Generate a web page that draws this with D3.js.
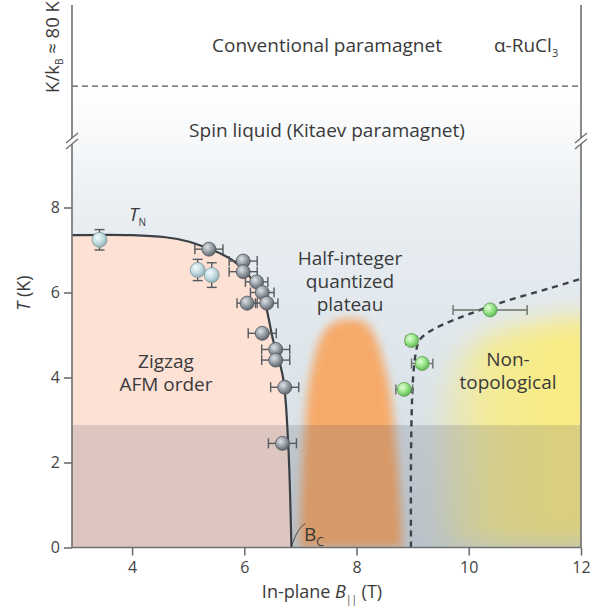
<!DOCTYPE html>
<html><head><meta charset="utf-8">
<script src="https://cdn.jsdelivr.net/npm/d3@7"></script>
<style>
html,body{margin:0;padding:0;background:#fff;}
svg{display:block;font-family:"Open Sans",sans-serif;}
</style></head>
<body>
<svg id="chart" width="597" height="610"></svg>
<script>
// ---------- DATA ----------
const xTicks = [4, 6, 8, 10, 12];
const yTicks = [0, 2, 4, 6, 8];
const xDomain = [2.93, 12];
const yDomain = [0, 8];
const kitaevK = 80;            // dashed line K/kB ≈ 80 K
const lowBandT = 2.88;         // darker low-temperature band

// T_N phase boundary (zigzag AFM)
const tnB = [2.93, 4.0, 4.6, 5.0, 5.35, 5.6, 5.8, 6.05, 6.33, 6.51, 6.69, 6.78, 6.84];
const tnT = [7.35, 7.35, 7.3, 7.2, 7.04, 6.9, 6.75, 6.45, 5.9, 4.9, 4.0, 2.5, 0];

// dashed boundary (non-topological)
const dashB = [8.97, 8.97, 8.99, 9.02, 9.06, 9.12, 9.3, 9.53, 9.96, 10.55, 11.44, 12.0];
const dashT = [0, 2.0, 3.5, 4.2, 4.6, 4.88, 5.08, 5.24, 5.47, 5.75, 6.1, 6.32];

// half-integer plateau region outline
const plateauB = [6.98, 7.04, 7.12, 7.2, 7.38, 7.6, 7.88, 8.15, 8.32, 8.55, 8.66, 8.76, 8.82];
const plateauT = [0, 2.0, 3.5, 4.2, 5.0, 5.3, 5.38, 5.3, 5.0, 4.0, 3.0, 1.5, 0];

// non-topological region outline
const nonTopB = [9.4, 9.45, 9.8, 10.3, 11.0, 12.3, 12.3];
const nonTopT = [0, 3.4, 4.5, 5.0, 5.25, 5.5, 0];

// grey points (horizontal error bars)
const greyB = [5.37, 5.98, 5.98, 6.22, 6.32, 6.05, 6.40, 6.32, 6.56, 6.56, 6.72, 6.68];
const greyT = [7.02, 6.74, 6.49, 6.25, 6.0, 5.75, 5.75, 5.04, 4.66, 4.41, 3.77, 2.45];
const greyErr = [0.25, 0.25, 0.25, 0.2, 0.21, 0.18, 0.2, 0.25, 0.25, 0.25, 0.25, 0.25];

// light points (vertical error bars)
const lightB = [3.42, 5.17, 5.42];
const lightT = [7.24, 6.53, 6.41];
const lightErr = [0.24, 0.25, 0.29];

// green points (horizontal error bars)
const greenB = [10.38, 8.98, 9.17, 8.85];
const greenT = [5.59, 4.87, 4.33, 3.72];
const greenErr = [0.66, 0.1, 0.19, 0.15];

// ---------- CHART ----------
const svg = d3.select("#chart");
const L = 72, R = 581, TOP = 5;
const x = d3.scaleLinear().domain(xDomain).range([L, R]);
const y = d3.scaleLinear().domain(yDomain).range([547.5, 207.5]);
const breakT = 9.5;
const yHi = d3.scaleLinear().domain([breakT, 179]).range([y(breakT), TOP]);
const yBreak = 141;

const defs = svg.append("defs");
const bg = defs.append("linearGradient").attr("id","bg").attr("gradientUnits","userSpaceOnUse")
  .attr("x1",0).attr("x2",0).attr("y1",yHi(kitaevK)).attr("y2",y(0));
bg.append("stop").attr("offset",0).attr("stop-color","#ffffff");
bg.append("stop").attr("offset",0.3).attr("stop-color","#e8edf1");
bg.append("stop").attr("offset",1).attr("stop-color","#d0dce4");

const yg = defs.append("linearGradient").attr("id","yg").attr("gradientUnits","userSpaceOnUse")
  .attr("x1",x(9.4)).attr("x2",x(11.6)).attr("y1",0).attr("y2",0);
yg.append("stop").attr("offset",0).attr("stop-color","#f6ec8c").attr("stop-opacity",0.2);
yg.append("stop").attr("offset",0.45).attr("stop-color","#f7ec8a").attr("stop-opacity",0.88);
yg.append("stop").attr("offset",1).attr("stop-color","#f9ec84").attr("stop-opacity",1);

function blur(id, sd){
  const f = defs.append("filter").attr("id",id).attr("x","-50%").attr("y","-50%").attr("width","200%").attr("height","200%");
  f.append("feGaussianBlur").attr("stdDeviation",sd);
}
blur("b1",5); blur("b2",13);

defs.append("clipPath").attr("id","plotclip").append("rect")
  .attr("x",L).attr("y",TOP).attr("width",R-L).attr("height",y(0)-TOP);

function sphere(id, c0, c1, c2){
  const g = defs.append("radialGradient").attr("id",id).attr("cx","38%").attr("cy","35%").attr("r","65%");
  g.append("stop").attr("offset",0).attr("stop-color",c0);
  g.append("stop").attr("offset",0.55).attr("stop-color",c1);
  g.append("stop").attr("offset",1).attr("stop-color",c2);
}
sphere("sg","#dfe3e7","#989fa7","#5f666e");
sphere("sl","#f4fcfd","#c3dde1","#93b3b8");
sphere("sgr","#e4ffdb","#98e487","#62b857");

const plot = svg.append("g").attr("clip-path","url(#plotclip)");
// background
plot.append("rect").attr("x",L).attr("y",TOP).attr("width",R-L).attr("height",y(0)-TOP).attr("fill","url(#bg)");
plot.append("rect").attr("x",L).attr("y",TOP).attr("width",R-L).attr("height",yHi(kitaevK)-TOP).attr("fill","#fff");

const line = d3.line().x(d=>x(d[0])).y(d=>y(d[1]));
// non-topological (yellow)
plot.append("path").attr("d", line(d3.zip(nonTopB, nonTopT))+"Z")
  .attr("fill","url(#yg)").attr("filter","url(#b2)");
// plateau (orange)
plot.append("path").attr("d", d3.line().x(d=>x(d[0])).y(d=>y(d[1])).curve(d3.curveCatmullRom)(d3.zip(plateauB, plateauT)).concat("Z"))
  .attr("fill","#f6aa6a").attr("filter","url(#b1)");
// zigzag AFM (pink)
const tnPts = d3.zip(tnB, tnT);
const curved = d3.line().x(d=>x(d[0])).y(d=>y(d[1])).curve(d3.curveCatmullRom);
plot.append("path").attr("d", curved(tnPts) + `L${x(xDomain[0])},${y(0)}Z`).attr("fill","#fde1d5");
// low-T band
plot.append("rect").attr("x",L).attr("y",y(lowBandT)).attr("width",R-L).attr("height",y(0)-y(lowBandT))
  .attr("fill","rgb(80,80,95)").attr("fill-opacity",0.18);

// dashed K line
svg.append("line").attr("x1",L).attr("x2",R).attr("y1",yHi(kitaevK)).attr("y2",yHi(kitaevK))
  .attr("stroke","#555").attr("stroke-width",1.2).attr("stroke-dasharray","6,4");

// T_N line
plot.append("path").attr("d", curved(tnPts)).attr("fill","none").attr("stroke","#3a4046").attr("stroke-width",2.2);
// dashed boundary
plot.append("path").attr("d", curved(d3.zip(dashB,dashT))).attr("fill","none")
  .attr("stroke","#3c4248").attr("stroke-width",2.4).attr("stroke-dasharray","6,5");

// error bars + points
function hErr(g, b, t, e){
  const yy = y(t);
  g.append("line").attr("x1",x(b-e)).attr("x2",x(b+e)).attr("y1",yy).attr("y2",yy);
  g.append("line").attr("x1",x(b-e)).attr("x2",x(b-e)).attr("y1",yy-5).attr("y2",yy+5);
  g.append("line").attr("x1",x(b+e)).attr("x2",x(b+e)).attr("y1",yy-5).attr("y2",yy+5);
}
function vErr(g, b, t, e){
  const xx = x(b);
  g.append("line").attr("x1",xx).attr("x2",xx).attr("y1",y(t-e)).attr("y2",y(t+e));
  g.append("line").attr("x1",xx-5).attr("x2",xx+5).attr("y1",y(t-e)).attr("y2",y(t-e));
  g.append("line").attr("x1",xx-5).attr("x2",xx+5).attr("y1",y(t+e)).attr("y2",y(t+e));
}
const eg = svg.append("g").attr("stroke","#555b60").attr("stroke-width",1.4);
greyB.forEach((b,i)=>hErr(eg,b,greyT[i],greyErr[i]));
lightB.forEach((b,i)=>vErr(eg,b,lightT[i],lightErr[i]));
const eg2 = svg.append("g").attr("stroke","#6a7068").attr("stroke-width",1.4);
greenB.forEach((b,i)=>hErr(eg2,b,greenT[i],greenErr[i]));

svg.append("g").selectAll("circle").data(d3.zip(lightB,lightT)).join("circle")
  .attr("cx",d=>x(d[0])).attr("cy",d=>y(d[1])).attr("r",7.5)
  .attr("fill","url(#sl)").attr("stroke","#7f989c").attr("stroke-width",0.8);
svg.append("g").selectAll("circle").data(d3.zip(greyB,greyT)).join("circle")
  .attr("cx",d=>x(d[0])).attr("cy",d=>y(d[1])).attr("r",7)
  .attr("fill","url(#sg)").attr("stroke","#50565c").attr("stroke-width",0.8);
svg.append("g").selectAll("circle").data(d3.zip(greenB,greenT)).join("circle")
  .attr("cx",d=>x(d[0])).attr("cy",d=>y(d[1])).attr("r",7)
  .attr("fill","url(#sgr)").attr("stroke","#5c9a52").attr("stroke-width",0.8);

// ---------- AXES ----------
const axisColor = "#6f6f6f";
const ax = svg.append("g").attr("stroke",axisColor).attr("stroke-width",1.6).attr("fill","none");
// left/right axes with break
ax.append("line").attr("x1",L).attr("x2",L).attr("y1",TOP).attr("y2",yBreak-3);
ax.append("line").attr("x1",L).attr("x2",L).attr("y1",yBreak+3).attr("y2",y(0));
ax.append("line").attr("x1",R).attr("x2",R).attr("y1",TOP).attr("y2",yBreak-3);
ax.append("line").attr("x1",R).attr("x2",R).attr("y1",yBreak+3).attr("y2",y(0));
ax.append("line").attr("x1",L).attr("x2",R).attr("y1",y(0)).attr("y2",y(0));
[L,R].forEach(xx=>{
  [-3,3].forEach(o=>{
    ax.append("line").attr("x1",xx-6).attr("y1",yBreak+o+5).attr("x2",xx+6).attr("y2",yBreak+o-5).attr("stroke-width",1.3);
  });
});

const yAxis = d3.axisLeft(y).tickValues(yTicks).tickSize(8).tickPadding(4).tickFormat(d3.format("d"));
const ya = svg.append("g").attr("transform",`translate(${L},0)`).call(yAxis);
const xAxis = d3.axisBottom(x).tickValues(xTicks).tickSize(8).tickPadding(6).tickFormat(d3.format("d"));
const xa = svg.append("g").attr("transform",`translate(0,${y(0)})`).call(xAxis);
[ya,xa].forEach(a=>{
  a.select(".domain").remove();
  a.selectAll(".tick line").attr("stroke",axisColor).attr("stroke-width",1.6);
  a.selectAll(".tick text").attr("fill","#444").style("font-size","16px").style("font-family","'Open Sans',sans-serif");
});

// ---------- TEXT ----------
const txt = svg.append("g").attr("fill","#3a3a3a").style("font-size","19px");
function label(xx, yy, s, anchor="middle"){ return txt.append("text").attr("x",xx).attr("y",yy).attr("text-anchor",anchor).text(s); }
label(327, 52, "Conventional paramagnet");
const ru = txt.append("text").attr("x",494).attr("y",52);
ru.append("tspan").text("α-RuCl");
ru.append("tspan").attr("dy",5).style("font-size","11px").text("3");
label(327, 137, "Spin liquid (Kitaev paramagnet)");
label(166, 368, "Zigzag");
label(166, 391, "AFM order");
label(350, 265, "Half-integer");
label(350, 288, "quantized");
label(350, 311, "plateau");
label(508, 366, "Non-");
label(508, 389, "topological");

// T_N
const tn = txt.append("text").attr("x",129).attr("y",221);
tn.append("tspan").style("font-style","italic").text("T");
tn.append("tspan").attr("dy",5).style("font-size","10px").text("N");
// B_C
const bc = txt.append("text").attr("x",304).attr("y",541);
bc.append("tspan").text("B");
bc.append("tspan").attr("dy",5).style("font-size","12px").text("C");
svg.append("path").attr("d",`M${x(6.84)},${y(0)-1} Q${x(6.84)+6},${y(0)-20} ${x(6.84)+14},${y(0)-24}`)
  .attr("fill","none").attr("stroke","#4a4a4a").attr("stroke-width",1);

// axis titles
const xt = txt.append("text").attr("x",322).attr("y",598).attr("text-anchor","middle").style("font-size","18px");
xt.append("tspan").text("In-plane ");
xt.append("tspan").style("font-style","italic").text("B");
xt.append("tspan").attr("dy",5).style("font-size","10px").text("||");
xt.append("tspan").attr("dy",-5).text(" (T)");

const yt = txt.append("text").attr("transform","translate(30,293) rotate(-90)").attr("text-anchor","middle").style("font-size","18px");
yt.append("tspan").style("font-style","italic").text("T");
yt.append("tspan").text(" (K)");

const kt = txt.append("text").attr("transform","translate(59,47) rotate(-90)").attr("text-anchor","middle").style("font-size","18.5px");
kt.append("tspan").text("K/k");
kt.append("tspan").attr("dy",4).style("font-size","10px").text("B");
kt.append("tspan").attr("dy",-4).text(" ≈ 80 K");
</script>
</body></html>
